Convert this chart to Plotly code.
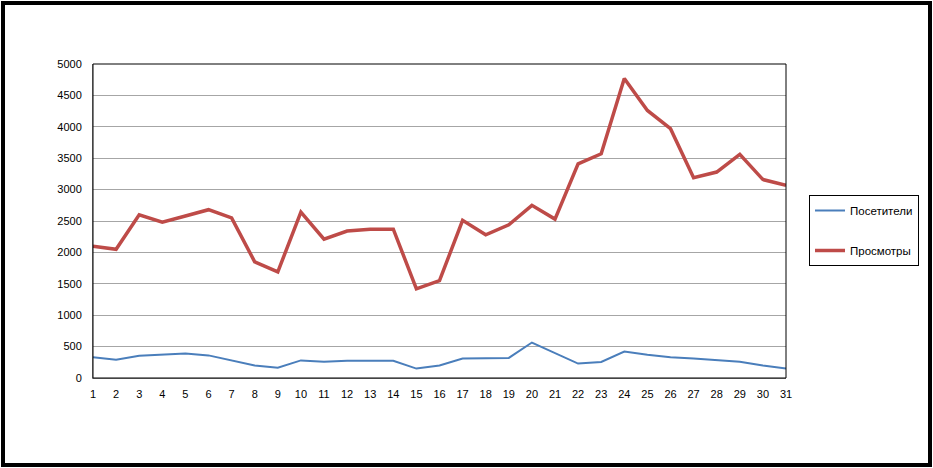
import plotly.graph_objects as go

days = list(range(1, 32))
visitors = [330, 290, 355, 370, 390, 360, 280, 200, 165, 280, 260, 275, 275, 275, 150,
            200, 310, 310, 320, 565, 400, 230, 255, 420, 370, 330, 310, 280, 260, 200, 150]
views = [2100, 2050, 2600, 2480, 2580, 2680, 2550, 1850, 1690, 2640, 2210, 2340, 2370, 2370, 1420,
         1550, 2510, 2280, 2440, 2750, 2530, 3410, 3570, 4770, 4260, 3970, 3190, 3280, 3560, 3160, 3070]
y_ticks = list(range(0, 5001, 500))

W, H = 933, 468
L, R, T, B = 93, 786, 64, 378

fig = go.Figure()
fig.add_trace(go.Scatter(x=days, y=visitors, mode="lines", name="Посетители",
                         line=dict(color="#4A7EBB", width=2), legendgroup="a"))
fig.add_trace(go.Scatter(x=days, y=views, mode="lines", name="Просмотры",
                         line=dict(color="#BE4B48", width=3.5), legendgroup="b"))

pw, ph = R - L, B - T
def px(x):
    return (x - L) / pw
def py(y):
    return (B - y) / ph

fig.add_shape(type="rect", xref="paper", yref="paper",
              x0=px(3), x1=px(930), y0=py(3), y1=py(465),
              line=dict(color="black", width=4), fillcolor="rgba(0,0,0,0)", layer="above")
fig.add_shape(type="rect", xref="paper", yref="paper",
              x0=0, x1=1, y0=0, y1=1,
              line=dict(color="black", width=1), fillcolor="rgba(0,0,0,0)", layer="above")

fig.update_layout(
    width=W, height=H,
    margin=dict(l=L, r=W - R, t=T, b=H - B),
    paper_bgcolor="white", plot_bgcolor="white",
    font=dict(family="Liberation Sans, Arial, sans-serif", size=11, color="black"),
    showlegend=True,
    legend=dict(x=px(809), y=py(195), xanchor="left", yanchor="top",
                bordercolor="black", borderwidth=1, bgcolor="white",
                tracegroupgap=21, traceorder="grouped",
                font=dict(size=11.5, color="black"), itemwidth=30),
    xaxis=dict(range=[1, 31], tickmode="array", tickvals=days, ticktext=[str(d) for d in days],
               showgrid=False, zeroline=False, showline=True, linecolor="#868686", linewidth=1,
               ticks="", ticklabelstandoff=6, tickfont=dict(size=11)),
    yaxis=dict(range=[0, 5000], tickmode="array", tickvals=y_ticks, ticktext=[str(v) for v in y_ticks],
               showgrid=True, gridcolor="#A6A6A6", gridwidth=1, zeroline=False,
               showline=True, linecolor="#868686", linewidth=1, ticks="", ticklen=0,
               ticklabelstandoff=8, tickfont=dict(size=11)),
)

fig.write_html("out.html", config={"displayModeBar": False},
               post_script="document.body.style.margin='0';document.body.style.padding='0';")
